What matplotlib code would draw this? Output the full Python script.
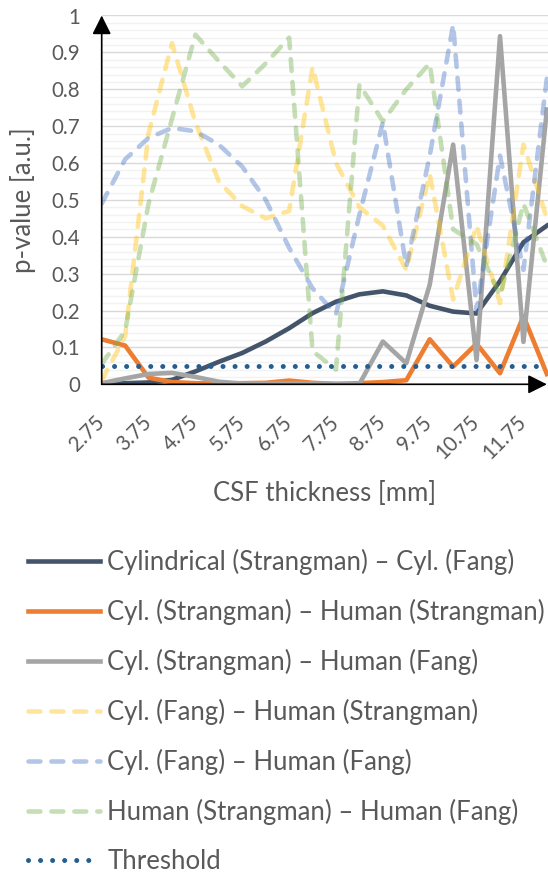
import matplotlib.pyplot as plt

plt.rcParams['font.family'] = ['Lato', 'DejaVu Sans']

# CSF thickness categories [mm]
thickness = [2.75, 3.25, 3.75, 4.25, 4.75, 5.25, 5.75, 6.25, 6.75, 7.25,
             7.75, 8.25, 8.75, 9.25, 9.75, 10.25, 10.75, 11.25, 11.75, 12.25]
tick_pos = [2.75, 3.75, 4.75, 5.75, 6.75, 7.75, 8.75, 9.75, 10.75, 11.75]
tick_labels = ['2.75', '3.75', '4.75', '5.75', '6.75', '7.75', '8.75', '9.75', '10.75', '11.75']

# p-values
cyl_s_cyl_f = [0.000, 0.003, 0.005, 0.012, 0.035, 0.061, 0.085, 0.116, 0.152, 0.193,
               0.224, 0.244, 0.252, 0.241, 0.213, 0.197, 0.192, 0.280, 0.385, 0.430]
cyl_s_hum_s = [0.122, 0.105, 0.018, 0.006, 0.003, 0.002, 0.003, 0.004, 0.010, 0.004,
               0.001, 0.003, 0.006, 0.011, 0.122, 0.048, 0.110, 0.030, 0.185, 0.028]
cyl_s_hum_f = [0.003, 0.016, 0.028, 0.031, 0.020, 0.007, 0.002, 0.002, 0.002, 0.002,
               0.001, 0.001, 0.116, 0.057, 0.270, 0.650, 0.066, 0.944, 0.115, 0.745]
cyl_f_hum_s = [0.010, 0.130, 0.680, 0.925, 0.710, 0.550, 0.483, 0.450, 0.470, 0.860,
               0.600, 0.480, 0.430, 0.310, 0.570, 0.230, 0.430, 0.220, 0.650, 0.450]
cyl_f_hum_f = [0.490, 0.610, 0.668, 0.695, 0.686, 0.650, 0.590, 0.500, 0.370, 0.260,
               0.190, 0.460, 0.710, 0.320, 0.620, 0.975, 0.200, 0.620, 0.310, 0.830]
hum_s_hum_f = [0.055, 0.145, 0.490, 0.720, 0.948, 0.876, 0.808, 0.870, 0.940, 0.090,
               0.040, 0.813, 0.713, 0.800, 0.870, 0.420, 0.380, 0.240, 0.490, 0.320]
threshold = [0.05] * len(thickness)

txt = '#595959'
fig = plt.figure(figsize=(5.48, 8.72), dpi=100)
ax = fig.add_axes([101.7 / 548, (872 - 384.3) / 872, (548 - 101.7) / 548, (384.3 - 15.5) / 872])

lw = 3.3
dash = (0, (2.6, 2.4))
ax.plot(thickness, cyl_s_cyl_f, color='#44546A', lw=lw, solid_joinstyle='round',
        label='Cylindrical (Strangman) – Cyl. (Fang)', zorder=3)
ax.plot(thickness, cyl_s_hum_s, color='#ED7D31', lw=lw, solid_joinstyle='round',
        label='Cyl. (Strangman) – Human (Strangman)', zorder=3)
ax.plot(thickness, cyl_s_hum_f, color='#A5A5A5', lw=lw, solid_joinstyle='round',
        label='Cyl. (Strangman) – Human (Fang)', zorder=3)
ax.plot(thickness, cyl_f_hum_s, color='#FFC000', alpha=0.4, lw=lw, ls=dash,
        dash_capstyle='round', label='Cyl. (Fang) – Human (Strangman)', zorder=4)
ax.plot(thickness, cyl_f_hum_f, color='#4472C4', alpha=0.4, lw=lw, ls=dash,
        dash_capstyle='round', label='Cyl. (Fang) – Human (Fang)', zorder=4)
ax.plot(thickness, hum_s_hum_f, color='#70AD47', alpha=0.4, lw=lw, ls=dash,
        dash_capstyle='round', label='Human (Strangman) – Human (Fang)', zorder=4)
ax.plot(thickness, threshold, color='#255E91', lw=3.6, ls=(0, (0.01, 2.4)),
        dash_capstyle='round', label='Threshold', zorder=5)

ax.set_xlim(2.75, 2.75 + (548 - 101.7) / 23.43 * 0.5)
ax.set_ylim(0, 1)
ax.set_yticks([i / 10 for i in range(11)])
ax.set_yticklabels(['0', '0.1', '0.2', '0.3', '0.4', '0.5', '0.6', '0.7', '0.8', '0.9', '1'])
ax.set_yticks([i / 50 for i in range(51)], minor=True)
ax.grid(axis='y', which='major', color='#D9D9D9', lw=1.0, zorder=0)
ax.grid(axis='y', which='minor', color='#F2F2F2', lw=1.0, zorder=0)
ax.set_axisbelow(True)
ax.set_xticks(tick_pos)
ax.set_xticklabels(tick_labels, rotation=45, ha='right', va='center', rotation_mode='anchor')
ax.tick_params(axis='both', which='both', length=0, labelsize=14.8, labelcolor=txt)
ax.tick_params(axis='y', pad=15.5)
ax.tick_params(axis='x', pad=25)
for s in ax.spines.values():
    s.set_visible(False)

# axes with arrow heads
arrow = dict(arrowstyle='-|>,head_length=0.8,head_width=0.4', color='black', lw=1.2,
             shrinkA=0, shrinkB=0, mutation_scale=14.4)
ax.annotate('', xy=(2.75, 1.0), xytext=(2.75, 0), arrowprops=arrow, zorder=6)
ax.annotate('', xy=(12.25, 0), xytext=(2.75, 0), arrowprops=arrow, zorder=6)

ax.set_xlabel('CSF thickness [mm]', fontsize=18.5, color=txt, va='center')
ax.xaxis.set_label_coords(0.5, (384.3 - 493) / 368.8)
ax.set_ylabel('p-value [a.u.]', fontsize=18.5, color=txt, va='center')
ax.yaxis.set_label_coords((23 - 101.7) / 446.3, 0.5)

ax.legend(loc='upper left', bbox_to_anchor=(28.3 / 548, 1 - 549.3 / 872),
          bbox_transform=fig.transFigure, frameon=False, fontsize=18.5,
          labelcolor=txt, borderpad=0, borderaxespad=0, handlelength=2.8,
          handletextpad=0.27, labelspacing=0.93)

fig.savefig('out.png', dpi=100)
